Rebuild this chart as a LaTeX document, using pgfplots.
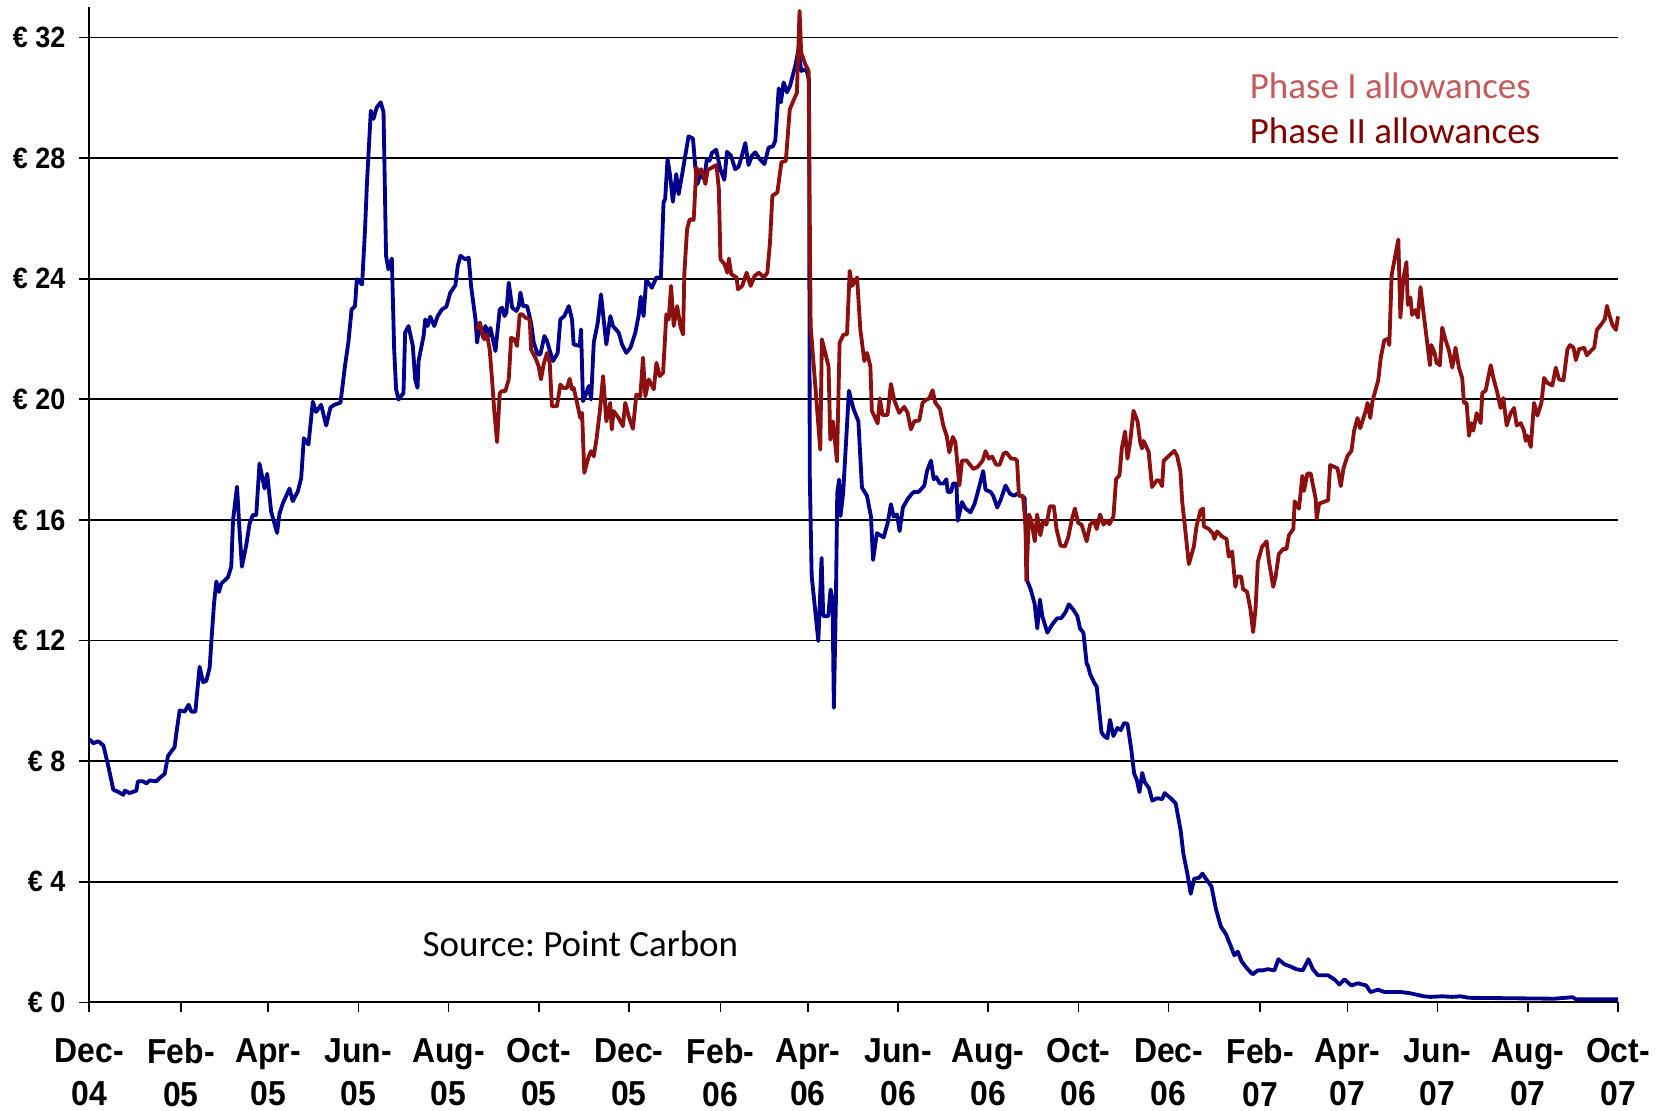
\documentclass[border=0pt]{standalone}
\usepackage{fontspec}
\setmainfont{Liberation Sans}
\newfontfamily\tickfont{Liberation Sans}[FakeStretch=0.92]
\newfontfamily\calfont{Carlito}
\usepackage{pgfplots}
\pgfplotsset{compat=1.18}
\definecolor{phaseone}{RGB}{0,0,140}
\definecolor{phasetwo}{RGB}{140,16,16}
\definecolor{legone}{RGB}{198,89,89}
\definecolor{legtwo}{RGB}{128,0,0}
\frenchspacing
\begin{document}
\begin{tikzpicture}
\begin{axis}[
  name=ax,
  scale only axis, width=458.6bp, height=298.5bp,
  xmin=0, xmax=1034, ymin=0, ymax=33,
  axis lines=left, axis line style={-, line width=0.6bp, black},
  xtick={0,62,121,182,243,304,365,427,486,547,608,669,730,792,851,912,973,1034},
  xticklabels={Dec-\\04,Feb-\\05,Apr-\\05,Jun-\\05,Aug-\\05,Oct-\\05,Dec-\\05,Feb-\\06,Apr-\\06,Jun-\\06,Aug-\\06,Oct-\\06,Dec-\\06,Feb-\\07,Apr-\\07,Jun-\\07,Aug-\\07,Oct-\\07},
  ytick={0,4,8,12,16,20,24,28,32},
  yticklabels={€ 0,€ 4,€ 8,€ 12,€ 16,€ 20,€ 24,€ 28,€ 32},
  ymajorgrids, grid style={black, line width=0.5bp},
  tick align=outside, major tick length=3bp, tick style={black, line width=0.5bp},
  xticklabel style={font=\tickfont\bfseries\fontsize{10.4bp}{12.9bp}\selectfont, align=center, anchor=north, inner sep=0pt, yshift=-7.6bp},
  yticklabel style={font=\tickfont\bfseries\fontsize{8.8bp}{10bp}\selectfont, anchor=east, inner sep=0pt, xshift=-4bp},
  clip=false,
]
\addplot[phaseone, line width=1.15bp, line join=round, no marks] table {
0 8.73
2.7 8.59
6 8.66
9.5 8.52
12.9 7.82
16.2 7.05
19.6 6.98
23 6.88
24 7.02
27.3 6.94
31.8 7.02
32.9 7.33
36.3 7.33
38.6 7.26
40.8 7.36
45.3 7.33
47.6 7.44
51 7.58
53.2 8.17
57.7 8.47
58.9 8.94
61.1 9.68
64.5 9.64
67.2 9.87
69 9.64
71.7 9.64
74.6 11.13
76.9 10.62
79.1 10.66
81.4 11.1
82.5 11.94
84.3 13.2
85.9 13.96
87.7 13.61
89.3 13.89
93.8 14.1
96 14.45
97.2 15.99
99.9 17.1
101.7 15.57
103.2 14.45
106.1 15.15
108.4 15.88
110.6 16.16
112.9 16.16
115.1 17.87
118.5 17.04
120.3 17.53
123 16.27
127 15.57
128.6 16.2
130.9 16.55
135.4 17.04
137.6 16.62
141 16.94
143.3 17.39
145.1 18.71
148.2 18.5
151.2 19.92
153.4 19.58
156.8 19.82
160.2 19.13
163.1 19.73
165.8 19.82
169.9 19.89
172.9 21.1
175.2 21.88
177.4 22.98
179.7 23.09
180.9 23.98
184.5 23.81
186.5 25.64
187.7 27.08
190.4 29.57
192.2 29.3
194.4 29.68
197.1 29.85
199 29.52
200.7 24.76
202.3 24.31
204.6 24.67
206.2 21.65
207.5 20.33
209.1 19.99
212.5 20.21
213.6 22.21
215.9 22.43
218.8 21.77
220.4 20.66
222 20.38
222.7 21.27
226.1 22.1
227.2 22.65
228.8 22.43
230.6 22.74
233.3 22.43
235.6 22.76
238.5 22.98
241.5 23.07
244.2 23.54
247.6 23.78
249.2 24.42
251 24.76
254.4 24.64
256.6 24.7
258.2 23.76
261.2 22.65
262.3 21.88
264.1 22.54
266.4 22.04
267.9 22.43
270.2 22.1
271.3 22.37
274.7 21.6
277.6 22.98
279.2 23.04
280.8 22.76
282.1 22.87
283.7 23.87
286 23.04
288.9 22.93
290.5 23.09
291.6 23.54
293.4 23.09
296.1 23.09
298.8 22.54
300.6 21.88
303.3 21.49
305.1 21.49
307.8 22.1
309.6 21.93
311.9 21.54
313.7 21.27
316.8 21.54
318.6 22.65
321.3 22.76
324.3 23.09
326.5 22.65
327.6 21.82
331.7 21.77
332.6 22.32
333.9 19.94
336.2 20.21
337.8 20.44
339.4 19.99
341.2 21.88
343.9 22.54
346.1 23.48
347.9 22.65
349.7 21.82
352.4 22.76
354.2 22.43
358.1 22.21
360.3 21.82
363.2 21.54
366 21.71
369.2 22.19
371.5 22.76
373 23.4
374.9 22.76
376.7 23.96
380.5 23.7
383.5 24.04
386.6 24.04
388.4 26.53
389.5 26.64
391.1 27.97
392.9 27.41
394.7 26.55
397 27.47
398.6 26.8
400.8 27.41
403.1 28.08
405.3 28.72
408.3 28.65
409.8 27.75
411.4 27.14
413.2 27.47
415.9 27.3
417.7 27.97
419.5 27.91
421.1 28.17
424 28.28
426.8 27.63
429.5 27.28
431.3 28.21
434 28.08
436.9 27.63
439.2 27.72
441.4 28.08
443.7 28.5
445.9 27.77
448.2 28.08
450.5 28.19
453.4 27.97
456.6 27.8
459.5 28.35
462.4 28.39
464 28.58
466.3 30.31
467.8 29.85
469.6 30.51
471.9 30.18
474 30.4
477.5 31.06
479.7 31.61
481.5 30.89
484.9 30.95
486.8 30.6
487.3 17.5
488.6 14.14
493.1 11.98
495.3 14.74
496.4 12.81
499.8 12.81
501.4 13.69
502.7 13.36
503.6 9.77
505 13.36
505.9 16.9
507.2 17.34
508.1 16.13
509.9 16.9
513.8 20.28
516.9 19.68
520.2 19.27
522.6 17.07
526 16.8
528.7 16.11
530.1 14.67
532.7 15.56
535 15.49
537.3 15.42
540 15.9
542.2 16.52
544 16.11
546.3 16.18
548.1 15.63
550.3 16.41
553.5 16.69
556.4 16.87
558 16.93
561 16.93
564.8 17.14
566.6 17.62
569.3 17.97
571.1 17.35
572.9 17.42
575.2 17.21
577.9 17.21
579.7 17.35
580.6 16.93
582.9 16.93
584.2 17.21
586.5 17.21
587.4 15.97
590.3 16.59
592.6 16.38
596 16.25
598.7 16.52
601 16.93
604.6 17.62
606.2 17.0
609.6 16.93
611.4 16.8
614.1 16.41
616.4 16.66
619.7 17.14
622.7 16.87
625.4 16.8
627.7 16.87
629.9 16.8
632.6 16.73
634.4 13.98
636.7 13.7
639.4 13.22
641.2 12.4
643 13.36
644.6 12.81
648 12.26
651.4 12.54
654.7 12.74
657.4 12.74
660.4 12.95
662.6 13.2
665.6 13.02
668.3 12.81
670.1 12.4
672.4 12.26
674.6 11.23
675.5 11.16
676.9 10.89
679.6 10.61
681.4 10.47
683 9.72
684.6 8.96
686.4 8.83
688.6 8.76
690.4 9.37
692.7 8.83
695.4 9.1
697.7 9.03
699.9 9.26
702.2 9.24
704.9 8.34
706.7 7.59
708.5 7.38
710.3 6.97
712.2 7.61
713.8 7.31
716.7 7.11
719 6.69
722.3 6.77
725.7 6.74
727.3 6.94
731.4 6.77
734.8 6.6
738.2 5.69
740 4.93
742.7 4.27
745 3.6
747.3 4.1
750.7 4.13
752.9 4.27
755.2 4.1
759 3.85
762 3.1
765.4 2.51
768.8 2.26
772.2 1.85
774.5 1.56
776.8 1.68
779.5 1.35
783.5 1.1
786.9 0.93
790.3 1.06
793.7 1.06
797.1 1.1
801.6 1.06
804.3 1.43
808.4 1.26
812.9 1.18
816.3 1.1
820.8 1.06
824.6 1.43
827.6 1.1
831 0.9
837.7 0.9
842.2 0.76
845.6 0.59
849 0.76
853.6 0.56
858.1 0.63
863.7 0.56
866.6 0.34
871.6 0.42
876.1 0.34
887.4 0.34
893.6 0.3
902.6 0.2
907.1 0.18
915.1 0.2
921.9 0.18
927.5 0.2
933.2 0.15
990.8 0.12
1003.3 0.17
1005.5 0.1
1034 0.1
};
\addplot[phasetwo, line width=1.15bp, line join=round, no marks] table {
262.3 22.32
264.1 22.54
265.6 22.21
267.2 21.99
269 22.15
270.8 21.65
272.4 20.66
274 19.55
275.8 18.58
277.6 20.21
279.2 20.27
281.4 20.27
283.7 20.66
285.3 22.04
287.5 21.99
289.3 21.77
291.1 22.82
292.7 22.82
294.9 22.71
297.9 22.65
298.8 21.65
301.7 21.38
303.9 21.1
305.5 20.66
307.3 21.16
309.6 21.54
311.4 21.21
312.9 19.77
316.3 19.77
318.6 20.49
320.4 20.38
323.1 20.38
324.9 20.68
326.5 20.33
327.6 20.38
329.9 19.88
332.1 19.38
333.3 19.55
334.8 17.56
337.8 18.11
339.4 18.28
341.2 18.11
343 18.66
345.2 19.55
347.5 20.77
349.7 19.27
352.3 19.88
353.4 19.0
354.6 19.61
358 19.38
360.9 19.11
362.5 19.88
364.8 19.44
367.7 19.02
370 20.16
372.7 20.1
374.5 21.38
376.1 20.1
378.4 20.66
381.8 20.33
383.6 21.21
385.8 20.77
388.1 20.88
390.3 22.82
391.9 22.65
393.5 23.76
395.3 22.43
397.6 23.09
399.8 22.43
401.6 22.15
402.5 24.2
404.3 25.64
406.1 25.97
408.8 25.95
410.6 27.69
412.2 27.47
413.8 27.63
415.6 27.41
416.7 27.14
418.3 27.61
421.3 27.69
424.2 27.77
425.8 26.97
426.9 24.64
429.7 24.48
431.5 24.2
432.6 24.67
434.2 24.15
437.8 24.04
438.7 23.65
441.6 23.76
444.6 24.2
447.3 23.76
450 24.09
452.9 24.2
456.3 24.04
458.6 24.2
460.4 25.2
462 26.75
465.4 26.86
468.1 27.86
471.1 27.91
473.8 29.62
478.6 30.17
480.4 32.88
481.5 31.5
484.3 31.11
486.5 30.89
487.9 22.43
494.4 18.33
495.5 21.99
500 21.1
501.2 18.66
503 19.27
505.7 17.94
507.5 21.88
510.2 22.15
512.5 22.15
514.3 24.26
515.9 23.76
519.3 24.04
521.5 22.32
524.2 21.27
526 21.54
528.3 21.1
529.3 19.62
533.2 19.2
534.7 20.03
536.5 19.48
539.9 19.48
542.2 20.51
544.5 19.96
547.8 19.55
551.2 19.75
553.5 19.55
555.7 19.0
558 19.27
561.4 19.3
563.6 19.89
566.3 19.99
568.1 20.03
570.4 20.3
572.2 19.89
575.4 19.68
577.6 19.13
579.9 18.79
581.7 18.24
584 18.75
585.8 18.58
588.5 17.14
590.3 17.97
593.4 17.97
595.7 17.83
598 17.69
600.9 17.76
604.3 17.97
606.2 18.28
608.4 18.03
610.7 18.1
613.4 17.83
615.7 17.83
618.4 18.2
620.2 18.24
623.6 18.03
625.9 18.03
627.5 17.97
628.8 16.8
631.5 16.8
633.3 15.84
633.8 13.98
635.6 16.18
637.2 15.97
639.5 15.29
641.1 16.18
643.3 15.49
645.2 15.97
647.4 15.84
649.7 16.45
652.4 16.45
654.2 15.7
656.9 15.15
659.9 15.12
662.1 15.42
664.4 15.97
666.6 16.38
668.9 15.9
671.2 15.84
674.6 15.29
676.9 15.84
679.6 15.97
681.4 15.7
683.7 16.18
686 15.84
687.8 15.97
690 15.86
692.7 16.11
694.5 17.35
696.8 17.48
698.4 18.38
700.6 18.93
702.2 18.03
704 18.58
706.3 19.62
709 19.27
710.8 18.58
712 18.37
713.1 18.62
716.5 18.26
718.8 17.09
722.2 17.32
724 17.29
725.6 17.12
726.7 17.96
730.1 18.12
733.9 18.29
735.8 18.12
738 17.62
739.2 16.62
741.4 15.62
743.7 14.53
747.1 15.12
748.9 15.79
751.6 16.32
753.4 16.37
753.8 15.79
757.2 15.7
760.1 15.54
761 15.37
762.8 15.62
766.2 15.45
769.2 15.37
770.7 14.78
773 14.95
775.2 13.78
776.4 14.12
779.1 14.12
780.4 13.7
783.1 13.62
785.4 13.03
787.2 12.28
788.8 13.03
790.4 14.62
793.3 15.12
794.9 15.2
796.3 15.29
797.9 14.62
800.8 13.78
802.4 14.12
804.6 14.87
807.6 15.04
809.8 15.04
811.4 15.49
814.4 15.7
815.3 16.62
818.2 16.37
820.5 17.46
821.6 16.96
823.9 17.54
826.1 17.54
829.5 16.7
830.2 16.04
831.8 16.54
837.9 16.65
839.3 17.82
844.3 17.71
846.5 17.12
848.3 17.71
851 18.12
853.7 18.29
855.5 18.96
857.8 19.38
859.6 19.04
863.4 19.63
864.6 19.88
866.4 19.38
868 19.96
871.8 20.63
873.6 21.4
875.9 21.96
878.2 22.0
879.3 21.8
880.9 24.13
883.8 24.88
885.4 25.3
886.8 22.71
888.7 23.97
890.9 24.55
891.8 23.13
893.6 23.38
894.7 22.8
897 22.96
898.6 22.71
900.4 23.72
902.2 22.96
904.5 22.05
906.8 21.13
907.7 21.8
909.9 21.55
911.3 21.21
913.5 21.13
915.1 22.38
917.4 21.96
919.6 21.63
921.9 21.05
924.1 21.71
926.4 21.05
928.6 20.71
929.8 19.88
931.6 19.88
933.2 18.79
934.8 19.21
936.1 18.96
938.4 19.54
941.1 19.21
942.2 20.21
944.5 20.29
947.9 21.13
949.7 20.71
952.4 20.21
954.6 19.71
956.4 20.04
958.7 19.13
961.4 19.54
963.7 19.71
965.5 19.13
968.2 19.21
970.4 18.96
971.6 18.62
972.7 18.79
975 18.42
977.2 19.88
979.5 19.46
982.2 19.88
984 20.71
986.3 20.54
989.6 20.46
991.9 21.05
994.1 20.66
997.1 20.63
999.8 21.66
1001.6 21.8
1003.9 21.71
1005.5 21.3
1007.7 21.66
1011.1 21.71
1012.9 21.46
1016.1 21.63
1017.9 21.71
1019.7 22.3
1022.9 22.5
1025.1 22.66
1026.5 23.1
1028.1 22.8
1030.3 22.46
1032.6 22.3
1034 22.75
};
\node[anchor=base west, inner sep=0pt, text=legone, font=\calfont\fontsize{11.1bp}{13bp}\selectfont] at (axis cs:784.5,29.97) {Phase I allowances};
\node[anchor=base west, inner sep=0pt, text=legtwo, font=\calfont\fontsize{11.1bp}{13bp}\selectfont] at (axis cs:784.5,28.5) {Phase II allowances};
\node[anchor=west, inner sep=0pt, text=black, font=\calfont\fontsize{11.1bp}{13bp}\selectfont] at (axis cs:225,1.94) {Source: Point Carbon};
\end{axis}
\pgfresetboundingbox
\path (ax.south west) ++(-26.8bp,-32.6bp) rectangle ++(501.3bp,333.3bp);
\end{tikzpicture}
\end{document}
